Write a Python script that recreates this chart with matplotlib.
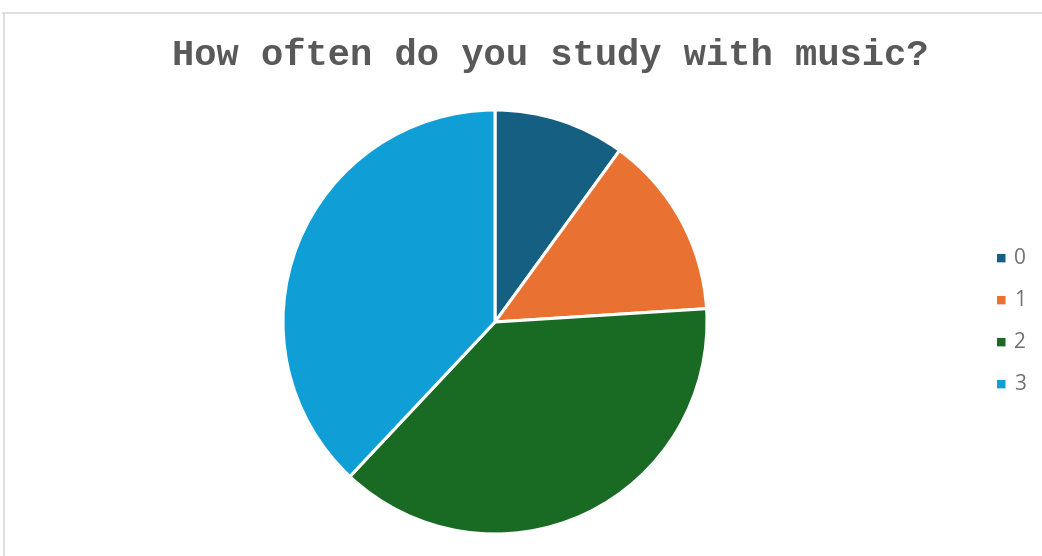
import matplotlib
matplotlib.use("Agg")
import matplotlib.pyplot as plt
from matplotlib.lines import Line2D

# Survey: how often students study with music
categories = ["0", "1", "2", "3"]
counts = [5, 7, 19, 19]
colors = ["#156082", "#E97132", "#196B24", "#0F9ED5"]

W, H = 1042, 556
fig = plt.figure(figsize=(W / 100, H / 100), dpi=100)
fig.patch.set_facecolor("white")

# chart area frame (top and left edges)
fig.add_artist(Line2D([3 / W, 1.0], [1 - 12.5 / H, 1 - 12.5 / H],
                      transform=fig.transFigure, color="#D9D9D9", lw=1.2))
fig.add_artist(Line2D([3.5 / W, 3.5 / W], [0.0, 1 - 12.5 / H],
                      transform=fig.transFigure, color="#D9D9D9", lw=1.2))

cx, cy, r = 495, 322, 212
ax = fig.add_axes([(cx - r) / W, 1 - (cy + r) / H, 2 * r / W, 2 * r / H])
wedges, _ = ax.pie(counts, colors=colors, startangle=90, counterclock=False,
                   wedgeprops=dict(edgecolor="white", linewidth=2.2))
ax.set_xlim(-1, 1)
ax.set_ylim(-1, 1)
ax.set_aspect("equal")
ax.axis("off")

fig.text(550 / W, 1 - 55 / H, "How often do you study with music?",
         ha="center", va="center", fontsize=26.7, fontweight="bold",
         family="Liberation Mono", color="#595959")

# legend
for i, (lab, col) in enumerate(zip(categories, colors)):
    y = 258 + 42 * i
    fig.text(1001 / W, 1 - y / H, "\u25A0", ha="center", va="center",
             fontsize=8, color=col, family="DejaVu Sans")
    fig.text(1014 / W, 1 - y / H, lab, ha="left", va="center",
             fontsize=15, color="#707070", family="Open Sans")

fig.savefig("out.png", dpi=100)
